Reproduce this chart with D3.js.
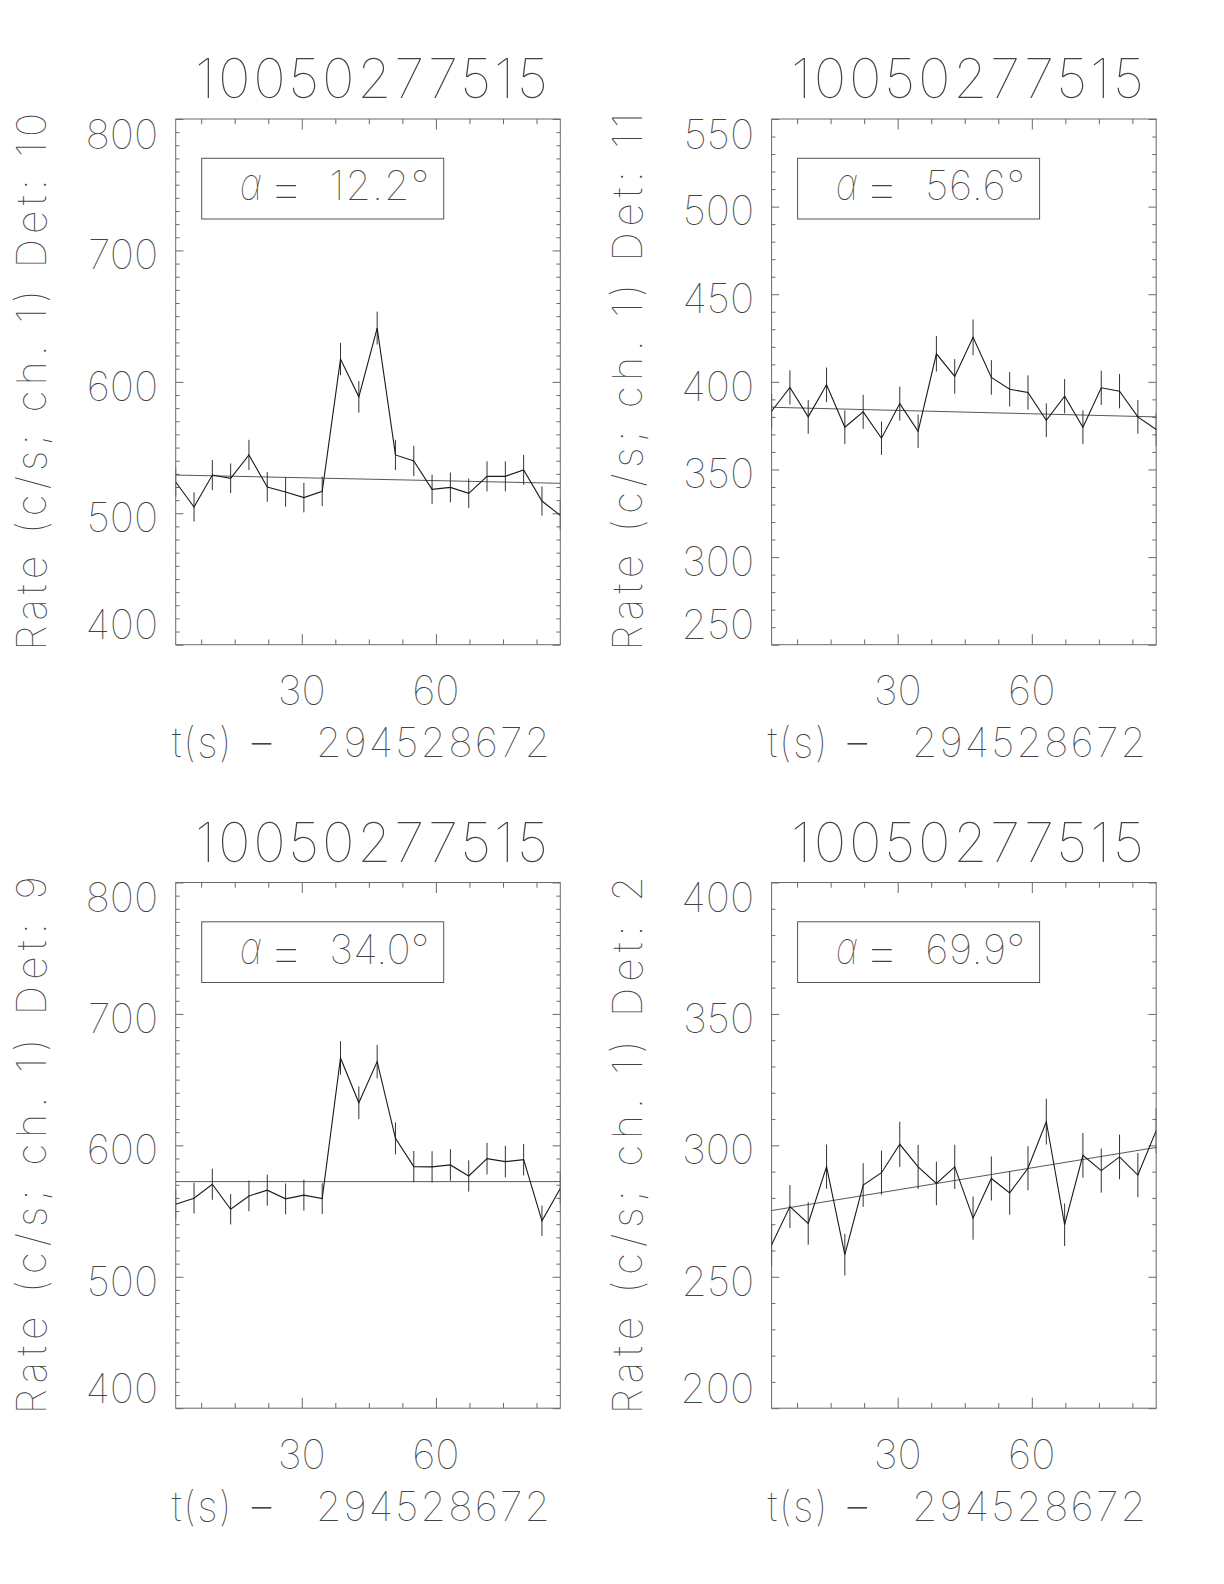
<!DOCTYPE html>
<html>
<head>
<meta charset="utf-8">
<script src="https://cdn.jsdelivr.net/npm/d3@7"></script>
<style>
  html, body { margin: 0; padding: 0; background: #fff; }
  svg { display: block; }
  text { font-family: Inter, Roboto, "DejaVu Sans", sans-serif; font-weight: 100; fill: #444; }
</style>
</head>
<body>
<svg id="chart" width="1224" height="1584"></svg>
<script>
// ---------------- DATA ----------------
const titleText = "10050277515";
const xAxisTitleA = "t(s)";
const xAxisTitleDash = "-";
const xAxisTitleB = "294528672";
const yAxisTitlePrefix = "Rate (c/s; ch. 1) Det: ";

// bin times (s, relative to 294528672), 4.096 s bins
const times = [1.80, 5.90, 9.99, 14.09, 18.18, 22.28, 26.38, 30.47, 34.57, 38.66, 42.76,
               46.86, 50.95, 55.05, 59.14, 63.24, 67.34, 71.43, 75.53, 79.62, 83.72, 87.82];

const detectors = ["10", "11", "9", "2"];
const alphas = ["12.2", "56.6", "34.0", "69.9"];

const det10Rate = [523.8, 504.8, 529.1, 526.6, 544.4, 520.0, 516.2, 511.9, 516.7, 617.3, 588.6,
                   640.9, 544.4, 539.8, 518.2, 519.7, 515.2, 528.1, 528.1, 533.0, 509.3, 498.4];
const det10Err  = [11.3, 11.1, 11.4, 11.3, 11.5, 11.3, 11.2, 11.2, 11.2, 12.3, 12.0,
                   12.5, 11.5, 11.5, 11.2, 11.3, 11.2, 11.4, 11.4, 11.4, 11.1, 11.0];
const det10Fit  = [529.1, 522.8];

const det11Rate = [383.2, 396.8, 380.0, 398.3, 374.1, 382.9, 367.8, 387.6, 371.8, 416.0, 403.1,
                   425.4, 402.5, 395.8, 393.9, 378.1, 391.8, 374.1, 396.6, 394.7, 380.0, 372.8];
const det11Err  = [9.7, 9.8, 9.6, 9.9, 9.6, 9.7, 9.5, 9.7, 9.5, 10.1, 9.9,
                   10.2, 9.9, 9.8, 9.8, 9.6, 9.8, 9.6, 9.8, 9.8, 9.6, 9.5];
const det11Fit  = [385.5, 380.0];

const det9Rate  = [555.2, 559.8, 570.4, 551.4, 561.5, 565.9, 559.3, 562.1, 559.5, 666.5, 632.4,
                   663.7, 605.3, 583.8, 583.6, 585.1, 576.7, 589.9, 587.6, 589.1, 542.6, 567.1];
const det9Err   = [11.6, 11.7, 11.8, 11.6, 11.7, 11.8, 11.7, 11.7, 11.7, 12.8, 12.4,
                   12.7, 12.2, 11.9, 11.9, 12.0, 11.9, 12.0, 12.0, 12.0, 11.5, 11.8];
const det9Fit   = [572.4, 572.4];

const det2Rate  = [262.2, 276.7, 270.3, 291.9, 258.4, 284.9, 289.6, 300.4, 291.8, 285.5, 291.8,
                   272.3, 287.4, 281.9, 291.3, 309.0, 269.8, 296.2, 290.4, 295.6, 288.7, 305.6];
const det2Err   = [8.0, 8.2, 8.1, 8.4, 7.9, 8.3, 8.4, 8.6, 8.4, 8.3, 8.4,
                   8.2, 8.4, 8.3, 8.4, 8.7, 8.1, 8.5, 8.4, 8.5, 8.4, 8.6];
const det2Fit   = [275.2, 299.2];

const yTicksA = [400, 500, 600, 700, 800];   // Det 10, Det 9
const yTicksB = [250, 300, 350, 400, 450, 500, 550]; // Det 11
const yTicksC = [200, 250, 300, 350, 400];   // Det 2
const xTickLabels = [30, 60];

// ---------------- LAYOUT ----------------
const svg = d3.select("#chart");
const W = 384.6, H = 525.7;
const colX = [175.7, 771.6];
const rowY = [119, 882.5];

const panels = [
  {det: detectors[0], alpha: alphas[0], rate: det10Rate, err: det10Err, fit: det10Fit, yTicks: yTicksA, x0: colX[0], y0: rowY[0]},
  {det: detectors[1], alpha: alphas[1], rate: det11Rate, err: det11Err, fit: det11Fit, yTicks: yTicksB, x0: colX[1], y0: rowY[0]},
  {det: detectors[2], alpha: alphas[2], rate: det9Rate,  err: det9Err,  fit: det9Fit,  yTicks: yTicksA, x0: colX[0], y0: rowY[1]},
  {det: detectors[3], alpha: alphas[3], rate: det2Rate,  err: det2Err,  fit: det2Fit,  yTicks: yTicksC, x0: colX[1], y0: rowY[1]}
];

const AX = "#6a6a6a";
const FS = 41;       // label font size
const CAP = 29.5;    // approx cap height at FS

panels.forEach((p, idx) => {
  const g = svg.append("g").attr("transform", `translate(${p.x0},${p.y0})`);
  const x = d3.scaleLinear().domain([times[0], times[times.length - 1]]).range([0, W]);
  const yMin = p.yTicks[0], yMax = p.yTicks[p.yTicks.length - 1];
  const y = d3.scaleLinear().domain([yMin, yMax]).range([H, 0]);
  const yStep = p.yTicks[1] - p.yTicks[0];

  const clipId = "clip" + idx;
  g.append("clipPath").attr("id", clipId).append("rect")
    .attr("x", 0).attr("y", 0).attr("width", W).attr("height", H);

  // ticks
  const xMajor = [30, 60];
  const xMinor = d3.range(7.5, 88, 7.5).filter(v => xMajor.indexOf(Math.round(v)) < 0);
  const yMinor = d3.range(yMin, yMax + 0.001, 10).filter(v => (v - yMin) % yStep !== 0);
  const majLx = 0.02 * H, minLx = 0.01 * H;   // x ticks (vertical)
  const majLy = 0.02 * W, minLy = 0.01 * W;   // y ticks (horizontal)

  function styleAxis(sel) {
    sel.select(".domain").remove();
    sel.selectAll("text").remove();
    sel.selectAll("line").attr("stroke", AX).attr("stroke-width", 1);
  }
  g.append("g").attr("transform", `translate(0,${H})`)
    .call(d3.axisBottom(x).tickValues(xMajor).tickSize(-majLx).tickFormat("")).call(styleAxis);
  g.append("g").attr("transform", `translate(0,${H})`)
    .call(d3.axisBottom(x).tickValues(xMinor).tickSize(-minLx).tickFormat("")).call(styleAxis);
  g.append("g")
    .call(d3.axisTop(x).tickValues(xMajor).tickSize(-majLx).tickFormat("")).call(styleAxis);
  g.append("g")
    .call(d3.axisTop(x).tickValues(xMinor).tickSize(-minLx).tickFormat("")).call(styleAxis);
  g.append("g")
    .call(d3.axisLeft(y).tickValues(p.yTicks).tickSize(-majLy).tickFormat("")).call(styleAxis);
  g.append("g")
    .call(d3.axisLeft(y).tickValues(yMinor).tickSize(-minLy).tickFormat("")).call(styleAxis);
  g.append("g").attr("transform", `translate(${W},0)`)
    .call(d3.axisRight(y).tickValues(p.yTicks).tickSize(-majLy).tickFormat("")).call(styleAxis);
  g.append("g").attr("transform", `translate(${W},0)`)
    .call(d3.axisRight(y).tickValues(yMinor).tickSize(-minLy).tickFormat("")).call(styleAxis);

  // frame
  g.append("rect").attr("x", 0).attr("y", 0).attr("width", W).attr("height", H)
    .attr("fill", "none").attr("stroke", AX).attr("stroke-width", 1);

  // y tick labels
  g.selectAll(".ylab").data(p.yTicks).enter().append("text")
    .attr("x", -17.4)
    .attr("y", d => {
      let b = y(d) + 4 + CAP / 2;
      b = Math.max(b, CAP);
      b = Math.min(b, H - 5.7);
      return b;
    })
    .attr("text-anchor", "end").attr("font-size", FS).text(d => d);

  // x tick labels
  g.selectAll(".xlab").data(xTickLabels).enter().append("text")
    .attr("x", d => x(d)).attr("y", H + 60.5)
    .attr("text-anchor", "middle").attr("font-size", FS).text(d => d);

  // x title
  const xt = g.append("text").attr("y", H + 112.5).attr("font-size", FS);
  xt.append("tspan").attr("x", -4).attr("textLength", 60).attr("lengthAdjust", "spacing").text(xAxisTitleA);
  xt.append("tspan").attr("x", 70).attr("dy", 9).attr("font-size", 72).text(xAxisTitleDash);
  xt.append("tspan").text(" ");
  xt.append("tspan").attr("x", 140.3).attr("dy", -9).attr("font-size", FS)
    .attr("textLength", 234).attr("lengthAdjust", "spacing").text(xAxisTitleB);

  // y title
  g.append("text")
    .attr("transform", `translate(${46 - colX[0]},${H / 2}) rotate(-90)`)
    .attr("text-anchor", "middle").attr("font-size", FS)
    .attr("textLength", 538).attr("lengthAdjust", "spacing").text(yAxisTitlePrefix + p.det);

  // title
  g.append("text").attr("x", W / 2 + 3.5).attr("y", -21)
    .attr("text-anchor", "middle").attr("font-size", 55)
    .attr("textLength", 353).attr("lengthAdjust", "spacing").text(titleText);

  // alpha box
  g.append("rect").attr("x", 26).attr("y", 39.3).attr("width", 242).attr("height", 60.7)
    .attr("fill", "none").attr("stroke", "#555").attr("stroke-width", 1);
  const at = g.append("text").attr("y", 81).attr("font-size", FS);
  at.append("tspan").attr("x", 64.3).attr("font-style", "italic").attr("font-size", 46)
    .attr("textLength", 21).attr("lengthAdjust", "spacingAndGlyphs").text("α");
  at.append("tspan").attr("x", 92).attr("dy", 8).attr("font-size", 58).text("=");
  at.append("tspan").text(" ");
  at.append("tspan").attr("x", 153.6).attr("dy", -8).attr("font-size", FS).attr("textLength", 100)
    .attr("lengthAdjust", "spacing").text(p.alpha + "°");

  // data
  const pts = times.map((t, i) => ({t: t, v: p.rate[i], e: p.err[i]}));
  const plot = g.append("g").attr("clip-path", `url(#${clipId})`);

  // fit line
  plot.append("line")
    .attr("x1", x(times[0])).attr("y1", y(p.fit[0]))
    .attr("x2", x(times[times.length - 1])).attr("y2", y(p.fit[1]))
    .attr("stroke", "#444").attr("stroke-width", 0.9);

  // error bars
  plot.selectAll(".eb").data(pts).enter().append("line")
    .attr("x1", d => x(d.t)).attr("x2", d => x(d.t))
    .attr("y1", d => y(d.v - d.e)).attr("y2", d => y(d.v + d.e))
    .attr("stroke", "#333").attr("stroke-width", 1);

  // light curve
  plot.append("path").datum(pts)
    .attr("d", d3.line().x(d => x(d.t)).y(d => y(d.v)))
    .attr("fill", "none").attr("stroke", "#1a1a1a").attr("stroke-width", 1.1);
});
</script>
</body>
</html>
